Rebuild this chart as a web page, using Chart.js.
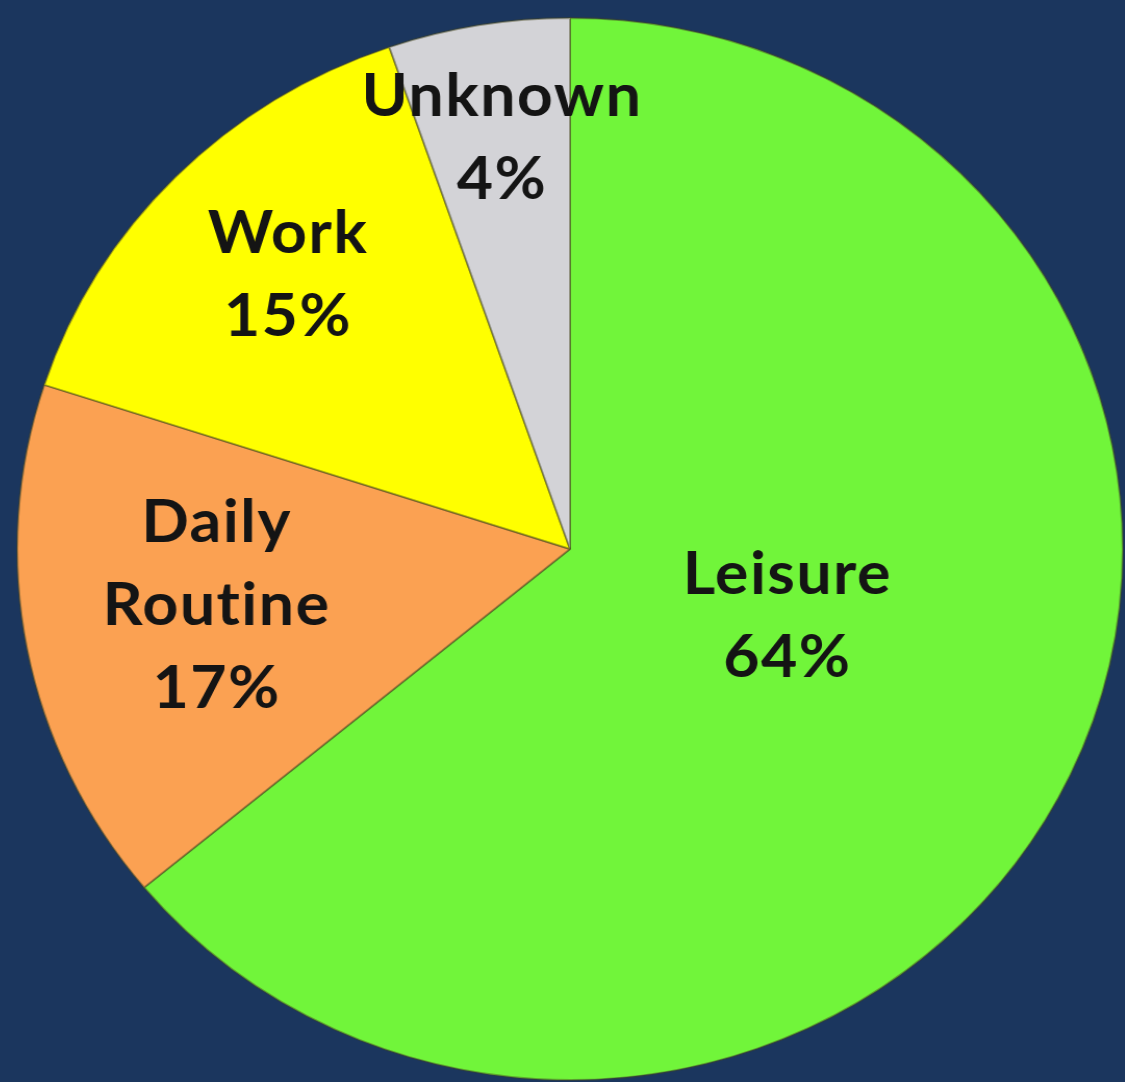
<!DOCTYPE html>
<html>
<head>
<meta charset="utf-8">
<script src="https://cdn.jsdelivr.net/npm/chart.js@4.4.1/dist/chart.umd.min.js"></script>
<style>
  html, body { margin: 0; padding: 0; background: #1b365e; overflow: hidden; }
  #wrap {
    position: absolute; left: 0; top: 0; width: 1125px; height: 1082px;
    transform-origin: 570px 549px;
    transform: scaleX(1.041);
  }
</style>
</head>
<body>
<div id="wrap"><canvas id="myChart"></canvas></div>
<script>
// slice sizes as drawn, label texts as printed on the slices
const categories = ['Leisure', 'Daily Routine', 'Work', 'Unknown'];
const shares = [64, 16, 14.7, 5.3];
const pctLabels = ['64%', '17%', '15%', '4%'];
const sliceColors = ['#71f53a', '#fba152', '#ffff00', '#d3d3d7'];

// labels written inside each slice
const sliceLabels = {
    id: 'sliceLabels',
    afterDatasetsDraw(chart, args, opts) {
        const ctx = chart.ctx;
        const arcs = chart.getDatasetMeta(0).data;
        ctx.save();
        ctx.fillStyle = opts.color;
        ctx.font = opts.font;
        ctx.letterSpacing = opts.spacing;
        ctx.textAlign = 'center';
        ctx.textBaseline = 'middle';
        arcs.forEach(function (arc, i) {
            const p = arc.getProps(['x', 'y', 'startAngle', 'endAngle', 'outerRadius'], true);
            const mid = (p.startAngle + p.endAngle) / 2 + opts.angleShift[i] * Math.PI / 180;
            const r = p.outerRadius * opts.radius[i];
            const cx = p.x + Math.cos(mid) * r;
            const cy = p.y + Math.sin(mid) * r;
            const lines = categories[i].split(' ').concat([pctLabels[i]]);
            const top = cy - (lines.length - 1) * opts.lineHeight / 2;
            lines.forEach(function (t, k) {
                ctx.fillText(t, cx, top + k * opts.lineHeight);
            });
        });
        ctx.restore();
    }
};

document.addEventListener("DOMContentLoaded", function () {
    const ctx = document.getElementById('myChart').getContext('2d');
    new Chart(ctx, {
        type: 'pie',
        data: {
            labels: categories,
            datasets: [{
                data: shares,
                backgroundColor: sliceColors,
                borderColor: 'rgba(70, 70, 30, 0.45)',
                borderWidth: 2,
                hoverOffset: 0
            }]
        },
        options: {
            responsive: true,
            maintainAspectRatio: false,
            animation: false,
            layout: { padding: { top: 17, bottom: 1, left: 16, right: 1 } },
            plugins: {
                legend: { display: false },
                tooltip: { enabled: false },
                sliceLabels: {
                    color: '#141414',
                    font: 'bold 60px Lato',
                    spacing: '1.5px',
                    lineHeight: 83,
                    radius: [0.413, 0.648, 0.726, 0.783],
                    angleShift: [-7.4, 1.4, 0.9, 0.5]
                }
            }
        },
        plugins: [sliceLabels]
    });
});
</script>
</body>
</html>
